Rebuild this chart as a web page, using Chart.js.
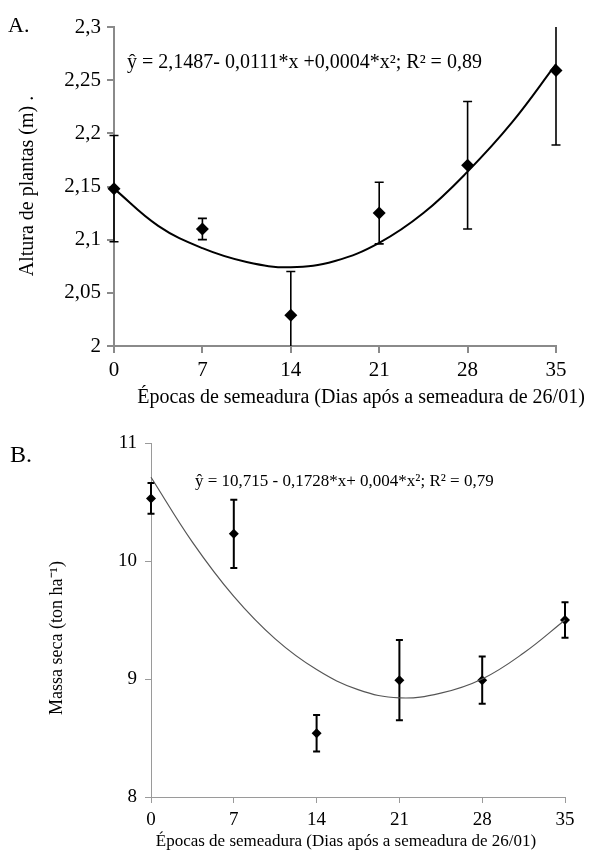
<!DOCTYPE html>
<html><head><meta charset="utf-8">
<script src="https://cdn.jsdelivr.net/npm/chart.js@4"></script>
<style>
html,body{margin:0;padding:0;background:#fff;width:599px;height:866px;overflow:hidden}
canvas{position:absolute;left:0}
#cA{top:0}
#cB{top:400px}
</style></head><body>
<canvas id="cA" width="599" height="430"></canvas>
<canvas id="cB" width="599" height="466"></canvas>
<script>
// ---- data ----
const days = [0, 7, 14, 21, 28, 35];
const alturaMean = [2.148, 2.110, 2.029, 2.125, 2.170, 2.259];
const alturaErr  = [0.050, 0.010, 0.041, 0.029, 0.060, 0.070];
const curveDays  = [0, 3.5, 7, 10.5, 14, 17.5, 21, 24.5, 28, 31.5, 35];
const alturaCurve = [2.148, 2.113, 2.092, 2.079, 2.074, 2.080, 2.097, 2.125, 2.164, 2.210, 2.265];
const massaMean = [10.53, 10.23, 8.54, 8.99, 8.99, 9.50];
const massaErr  = [0.13, 0.29, 0.155, 0.34, 0.20, 0.15];
const massaCurve = [10.71, 10.16, 9.70, 9.34, 9.08, 8.91, 8.84, 8.88, 9.00, 9.22, 9.50];
const xTickVals = [0, 7, 14, 21, 28, 35];
const xTickLabels = ['0', '7', '14', '21', '28', '35'];
const yTickValsA = [2, 2.05, 2.1, 2.15, 2.2, 2.25, 2.3];
const yTickLabelsA = ['2', '2,05', '2,1', '2,15', '2,2', '2,25', '2,3'];
const yTickValsB = [8, 9, 10, 11];
const yTickLabelsB = ['8', '9', '10', '11'];
const xTitle = 'Épocas de semeadura (Dias após a semeadura de 26/01)';
const yTitleA = 'Altura de plantas (m) .';
const yTitleB = 'Massa seca (ton ha⁻¹)';
const eqA = 'ŷ = 2,1487- 0,0111*x +0,0004*x²; R² = 0,89';
const eqB = 'ŷ = 10,715 - 0,1728*x+ 0,004*x²; R² = 0,79';

const SERIF = "'Liberation Serif','Times New Roman',serif";

const errPlugin = {
  id: 'errbars',
  beforeDatasetsDraw(chart, args, o) {
    const {ctx, chartArea} = chart;
    const xs = chart.scales.x, ys = chart.scales.y;
    ctx.save();
    ctx.beginPath();
    ctx.rect(chartArea.left - 20, chartArea.top, chartArea.width + 40, chartArea.height);
    ctx.clip();
    ctx.strokeStyle = '#000';
    ctx.lineWidth = o.lw;
    o.means.forEach((m, i) => {
      const x = xs.getPixelForValue(o.xv[i]);
      const y1 = ys.getPixelForValue(m - o.err[i]);
      const y2 = ys.getPixelForValue(m + o.err[i]);
      ctx.beginPath();
      ctx.moveTo(x, y1); ctx.lineTo(x, y2);
      ctx.moveTo(x - o.cap, y1); ctx.lineTo(x + o.cap, y1);
      ctx.moveTo(x - o.cap, y2); ctx.lineTo(x + o.cap, y2);
      ctx.stroke();
    });
    ctx.restore();
  }
};

const textPlugin = {
  id: 'texts',
  afterDraw(chart, args, o) {
    const ctx = chart.ctx;
    ctx.save();
    ctx.fillStyle = '#000';
    ctx.textBaseline = 'middle';
    o.items.forEach(t => {
      ctx.font = t.font;
      ctx.textAlign = t.align || 'left';
      if (t.rot) {
        ctx.save();
        ctx.translate(t.x, t.y);
        ctx.rotate(-Math.PI / 2);
        ctx.fillText(t.text, 0, 0);
        ctx.restore();
      } else {
        ctx.fillText(t.text, t.x, t.y);
      }
    });
    ctx.restore();
  }
};

function makeChart(id, cfg) {
  return new Chart(document.getElementById(id), {
    type: 'scatter',
    data: {
      datasets: [
        {
          type: 'line',
          data: curveDays.map((d, i) => ({x: d, y: cfg.curve[i]})),
          borderColor: cfg.curveColor,
          borderWidth: cfg.curveWidth,
          pointRadius: 0,
          tension: 0.4,
          fill: false,
          clip: false
        },
        {
          data: days.map((d, i) => ({x: d, y: cfg.means[i]})),
          pointStyle: 'rectRot',
          pointRadius: cfg.r,
          pointHoverRadius: cfg.r,
          backgroundColor: '#000',
          borderColor: '#000',
          borderWidth: 0,
          showLine: false,
          clip: false
        }
      ]
    },
    options: {
      responsive: false,
      animation: false,
      events: [],
      layout: {padding: {top: cfg.padTop, right: cfg.padRight, left: 0, bottom: 0}},
      plugins: {
        legend: {display: false},
        tooltip: {enabled: false},
        errbars: {means: cfg.means, err: cfg.err, xv: days, lw: cfg.errW, cap: cfg.cap},
        texts: {items: cfg.texts}
      },
      scales: {
        x: {
          type: 'linear', min: 0, max: 35,
          afterBuildTicks: s => { s.ticks = xTickVals.map(v => ({value: v})); },
          afterFit: s => { s.height = cfg.xH; },
          ticks: {
            color: '#000', font: {family: SERIF, size: cfg.tickSize}, padding: cfg.xPad,
            maxRotation: 0, autoSkip: false,
            callback: (v, i) => xTickLabels[i]
          },
          grid: {display: true, drawOnChartArea: false, drawTicks: true, tickLength: cfg.tickLen,
                 color: cfg.axisColor, lineWidth: cfg.axisW},
          border: {display: true, color: cfg.axisColor, width: cfg.axisW}
        },
        y: {
          type: 'linear', min: cfg.yMin, max: cfg.yMax,
          afterBuildTicks: s => { s.ticks = cfg.yVals.map(v => ({value: v})); },
          afterFit: s => { s.width = cfg.yW; },
          ticks: {
            color: '#000', font: {family: SERIF, size: cfg.tickSize}, padding: cfg.yPad,
            autoSkip: false,
            callback: (v, i) => cfg.yLabels[i]
          },
          grid: {display: true, drawOnChartArea: false, drawTicks: true, tickLength: cfg.tickLen,
                 color: cfg.axisColor, lineWidth: cfg.axisW},
          border: {display: true, color: cfg.axisColor, width: cfg.axisW}
        }
      }
    },
    plugins: [errPlugin, textPlugin]
  });
}

makeChart('cA', {
  curve: alturaCurve, means: alturaMean, err: alturaErr,
  curveColor: '#000', curveWidth: 2, r: 6.5, errW: 1.6, cap: 4.5,
  padTop: 27, padRight: 43, xH: 84, yW: 114,
  yMin: 2, yMax: 2.3, yVals: yTickValsA, yLabels: yTickLabelsA,
  tickSize: 21, tickLen: 7, xPad: 5, yPad: 6,
  axisColor: '#8a8a8a', axisW: 2,
  texts: [
    {text: 'A.', x: 8, y: 26, font: '22px ' + SERIF},
    {text: eqA, x: 127, y: 63, font: '20px ' + SERIF},
    {text: yTitleA, x: 28, y: 186, rot: true, align: 'center', font: '20px ' + SERIF},
    {text: xTitle, x: 361, y: 398, align: 'center', font: '20px ' + SERIF}
  ]
});

makeChart('cB', {
  curve: massaCurve, means: massaMean, err: massaErr,
  curveColor: '#555', curveWidth: 1.2, r: 5, errW: 2, cap: 3.5,
  padTop: 43, padRight: 34, xH: 69, yW: 151,
  yMin: 8, yMax: 11, yVals: yTickValsB, yLabels: yTickLabelsB,
  tickSize: 19, tickLen: 6, xPad: 6, yPad: 8,
  axisColor: '#9a9a9a', axisW: 1,
  texts: [
    {text: 'B.', x: 10, y: 56, font: '24px ' + SERIF},
    {text: eqB, x: 195, y: 82, font: '17px ' + SERIF},
    {text: yTitleB, x: 57, y: 238, rot: true, align: 'center', font: '18px ' + SERIF},
    {text: xTitle, x: 346, y: 442, align: 'center', font: '17px ' + SERIF}
  ]
});
</script>
</body></html>
